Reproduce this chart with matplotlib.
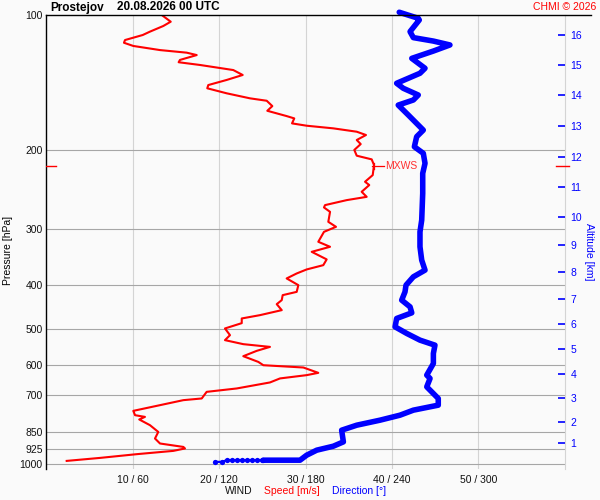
import matplotlib
matplotlib.use("Agg")
import matplotlib.pyplot as plt
from matplotlib.ticker import NullLocator

plt.rcParams['font.family'] = ['Liberation Sans', 'DejaVu Sans']

# ---- data ----
speed_p = [100, 103.5, 105.8, 108.9, 110.8, 113.7, 115.3, 117.2, 119.7, 121.3,
           122.8, 125.9, 127.4, 129.2, 132.6, 136.0, 139.5, 143.2, 145.6, 149.4,
           153.3, 155.2, 159.5, 163.4, 167.9, 169.9, 174.3, 176.4, 178.8, 181.9,
           185.0, 189.8, 193.8, 199.7, 205.7, 209.6, 215.8, 227.2, 235.1, 239.1,
           247.5, 254.0, 258.3, 265.0, 268.2, 274.3, 288.7, 296.2, 303.9, 319.8,
           328.1, 336.7, 350.0, 360.5, 368.5, 376.2, 385.9, 399.4, 413.4, 420.4,
           431.3, 440.3, 454.0, 465.8, 473.8, 485.3, 498.7, 516.1, 529.5, 540.5,
           548.1, 559.4, 574.9, 592.0, 602.1, 609.2, 626.1, 633.5, 644.3, 657.7,
           678.3, 690.2, 714.0, 720.2, 738.9, 760.8, 777.9, 784.7, 795.2, 818.8,
           847.6, 876.7, 899.4, 915.3, 922.6, 934.1, 950.0, 968.3, 983.3]
speed = [13.36, 14.40, 13.54, 12.00, 11.16, 9.11, 8.99, 10.07, 13.16, 16.25,
         17.41, 15.47, 15.32, 17.79, 21.64, 22.73, 20.88, 18.75, 18.63, 20.88,
         23.58, 25.51, 26.16, 25.58, 27.82, 28.70, 28.44, 30.14, 33.22, 35.93,
         37.00, 35.93, 36.39, 35.65, 35.93, 37.66, 37.93, 37.78, 36.89, 37.38,
         36.50, 37.08, 34.77, 32.26, 32.14, 32.84, 32.64, 33.53, 32.14, 31.48,
         32.84, 30.72, 32.45, 32.06, 30.14, 28.98, 27.82, 29.17, 28.98, 27.36,
         27.25, 26.67, 27.25, 24.73, 22.62, 22.62, 20.68, 21.26, 20.68, 22.80,
         25.89, 24.35, 22.80, 24.54, 25.12, 29.75, 31.48, 30.14, 27.05, 25.89,
         22.04, 18.56, 17.99, 15.86, 13.16, 10.07, 10.27, 11.42, 10.76, 12.00,
         12.96, 12.58, 13.16, 15.86, 16.05, 14.70, 10.46, 6.22, 2.36]

dir_p = [98.6, 101.7, 102.6, 108.9, 112.3, 114.3, 116.6, 120.3, 124.9, 131.4,
         134.8, 141.9, 145.6, 150.7, 154.6, 158.7, 167.0, 180.4, 186.6, 196.5,
         203.2, 213.9, 225.2, 249.5, 286.2, 303.9, 328.1, 351.3, 369.8, 382.7,
         399.4, 413.4, 431.3, 446.4, 460.3, 473.8, 494.6, 511.6, 529.5, 543.3,
         567.0, 596.9, 633.5, 644.3, 672.7, 714.0, 738.9, 758.1, 777.9, 798.1,
         818.8, 840.1, 891.9, 912.0, 930.7, 955.0, 979.7, 979.7]
direction = [245.1, 258.3, 259.0, 252.6, 254.9, 268.8, 280.3, 268.8, 253.8, 263.0,
             259.5, 243.3, 247.9, 258.3, 254.9, 244.4, 251.4, 261.8, 257.2, 255.6,
             261.8, 263.0, 261.4, 261.4, 260.7, 259.5, 259.5, 260.7, 263.0, 254.9,
             249.8, 249.1, 246.8, 252.6, 253.8, 243.3, 242.2, 250.3, 259.5, 269.9,
             268.8, 268.8, 264.2, 266.5, 264.2, 272.2, 272.2, 254.9, 245.6, 231.7,
             215.6, 205.1, 206.3, 199.3, 187.8, 180.8, 176.2, 150.7]

surf_p = [979.7, 979.7, 979.7, 979.7, 979.7, 979.7, 979.7, 979.7, 979.7, 988.3, 988.3]
surf_dir = [150.7, 149.6, 146.1, 142.6, 139.2, 135.7, 132.2, 128.8, 125.3, 121.8, 117.2]

p_ticks = [100, 200, 300, 400, 500, 600, 700, 850, 925, 1000]
x_ticks = [10, 20, 30, 40, 50]
x_labels = ["10 / 60", "20 / 120", "30 / 180", "40 / 240", "50 / 300"]

alt_km = list(range(1, 17))
alt_p = [898, 806, 713, 630, 554, 488, 429, 374, 325, 282, 242, 207, 177, 151, 129, 111]

mxws_p = 217
mxws_speed = 37.9

# ---- figure ----
BG = '#fafafa'
fig = plt.figure(figsize=(6, 5), dpi=100, facecolor=BG)
W, H = 600, 500
ax_l, ax_r, ax_t, ax_b = 46.3, 564.7, 15, 469
ax = fig.add_axes([ax_l / W, 1 - ax_b / H, (ax_r - ax_l) / W, (ax_b - ax_t) / H])
ax.set_facecolor(BG)

ax.set_yscale('log')
ax.set_ylim(1025, 100)
ax.set_xlim(0, 60)
ax.yaxis.set_minor_locator(NullLocator())
ax.set_yticks(p_ticks)
ax.set_yticklabels([str(p) for p in p_ticks])
ax.set_xticks(x_ticks)
ax.set_xticklabels(x_labels)
ax.tick_params(axis='both', length=0, labelsize=7.5, colors='#111111')
ax.tick_params(axis='y', pad=2.5)
ax.tick_params(axis='x', pad=4)

# grid
for xt in x_ticks:
    ax.axvline(xt, color='#d4d4d4', lw=0.8, zorder=1)
for pt in p_ticks[1:]:
    ax.axhline(pt, color='#a6a6a6', lw=0.8, zorder=1)

ax.spines['bottom'].set_visible(False)
ax.spines['top'].set_visible(False)
ax.spines['right'].set_color('#d4d4d4')
ax.spines['right'].set_linewidth(0.8)
ax.spines['left'].set_color('black')
ax.spines['left'].set_linewidth(1.0)
# top line extends beyond the axes
ax.axhline(100, xmin=0, xmax=(591 - ax_l) / (ax_r - ax_l), color='black', lw=1.0,
           clip_on=False, zorder=5)

# speed
ax.plot(speed, speed_p, color='#ff0000', lw=1.5, zorder=4, solid_joinstyle='round')

# direction (scaled to speed axis: 60 -> 360)
ax.plot([d / 6 for d in direction], dir_p, color='#0000ff', lw=4.0, zorder=3,
        solid_capstyle='round', solid_joinstyle='round', clip_on=False)
ax.plot([d / 6 for d in surf_dir], surf_p, color='#0000ff', lw=1.6, marker='o',
        ms=3.8, mec='none', zorder=3, clip_on=False)

# MXWS markers
ax.plot([0, 1.12], [mxws_p, mxws_p], color='#ff0000', lw=1.0, zorder=5)
ax.plot([59.0, 60.5], [mxws_p, mxws_p], color='#ff0000', lw=1.0, zorder=5, clip_on=False)
ax.plot([mxws_speed - 0.2, mxws_speed + 1.2], [mxws_p, mxws_p], color='#ff0000', lw=0.9, zorder=5)
ax.plot([mxws_speed, mxws_speed], [mxws_p * 0.985, mxws_p * 1.015], color='#ff0000', lw=0.9, zorder=5)
ax.text(mxws_speed + 1.35, mxws_p, "MXWS", color='#ff3030', fontsize=7.5, va='center', ha='left')

# altitude axis
ax2 = ax.twinx()
ax2.set_yscale('log')
ax2.set_ylim(1025, 100)
ax2.yaxis.set_minor_locator(NullLocator())
ax2.set_yticks(alt_p)
ax2.set_yticklabels([str(a) for a in alt_km])
ax2.tick_params(axis='y', direction='in', length=5, width=1.2, colors='#0000ff',
                labelsize=7.5, pad=4)
for s in ax2.spines.values():
    s.set_visible(False)

# texts
def px(x, y):
    return x / W, 1 - y / H

fig.text(*px(50, 7.5), "Prostejov", fontsize=8.5, fontweight='bold', va='center', ha='left')
fig.text(*px(117, 7.5), "20.08.2026 00 UTC", fontsize=8.5, fontweight='bold', va='center', ha='left')
fig.text(*px(596, 7), "CHMI © 2026", fontsize=7.5, color='#ff0000', va='center', ha='right')
fig.text(*px(8, 250), "Pressure [hPa]", fontsize=7.5, rotation=90, va='center', ha='center')
fig.text(*px(589, 252), "Altitude [km]", fontsize=7.5, rotation=270, va='center', ha='center',
         color='#0000ff')
fig.text(*px(225, 491), "WIND", fontsize=7.5, va='center', ha='left', color='#111111')
fig.text(*px(264, 491), "Speed [m/s]", fontsize=7.5, va='center', ha='left', color='#ff0000')
fig.text(*px(332, 491), "Direction [°]", fontsize=7.5, va='center', ha='left', color='#0000ff')

fig.savefig("out.png", dpi=100, facecolor=BG)
